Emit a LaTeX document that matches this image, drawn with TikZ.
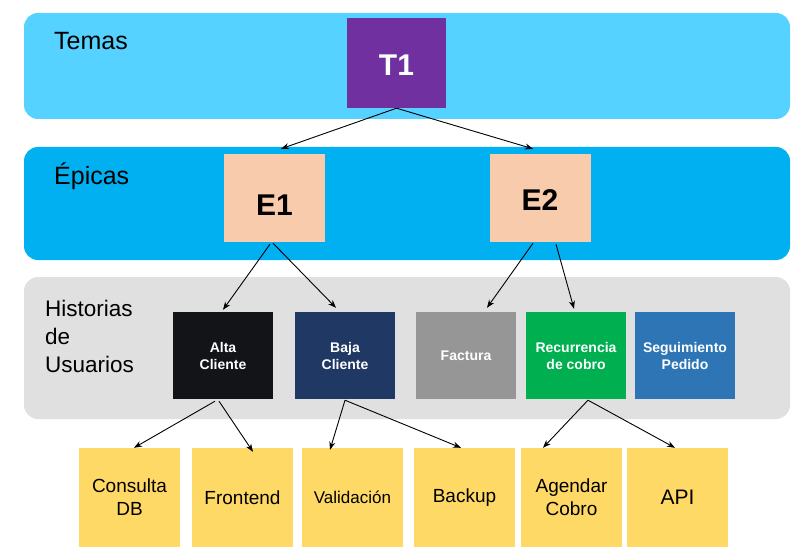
\documentclass[tikz,border=0pt]{standalone}
\usepackage{fontspec}
\setmainfont{Liberation Sans}
\usetikzlibrary{arrows.meta}
\definecolor{bandA}{HTML}{55D2FF}
\definecolor{bandB}{HTML}{00B0F0}
\definecolor{bandC}{HTML}{E0E0E0}
\definecolor{topicC}{HTML}{7030A0}
\definecolor{epicC}{HTML}{F8CBAD}
\definecolor{altaC}{HTML}{121418}
\definecolor{bajaC}{HTML}{1F3864}
\definecolor{factC}{HTML}{969696}
\definecolor{recC}{HTML}{00B050}
\definecolor{segC}{HTML}{2E75B6}
\definecolor{taskC}{HTML}{FFD966}
\tikzset{
  band/.style={rounded corners=14pt},
  lbl/.style={inner sep=0pt, font=\fontsize{25}{30}\selectfont},
  topicbox/.style={fill=topicC, text=white, minimum width=99pt, minimum height=90pt, inner sep=0pt,
    font=\bfseries\fontsize{30}{36}\selectfont},
  epicbox/.style={fill=epicC, minimum width=101pt, minimum height=88pt, inner sep=0pt,
    font=\bfseries\fontsize{30}{36}\selectfont},
  storybox/.style={minimum width=100pt, minimum height=87pt, inner sep=0pt, text=white, align=center,
    font=\bfseries\fontsize{14}{17}\selectfont},
  taskbox/.style={fill=taskC, minimum width=101pt, minimum height=99pt, inner sep=0pt, align=center,
    font=\fontsize{19}{23}\selectfont},
  arr/.style={-{Stealth[length=8pt,width=6pt]}, line width=0.9pt, black}
}
\begin{document}
\begin{tikzpicture}[x=1pt,y=-1pt]
\useasboundingbox (0,0) rectangle (803,556);
% bands
\fill[band, bandA] (24,13) rectangle (790,119);
\fill[band, bandB] (24,147) rectangle (790,260);
\fill[band, bandC] (24,277) rectangle (790,419);
% band labels
\node[lbl, anchor=base west] (ltemas) at (54,50) {Temas};
\node[lbl, anchor=base west] (lepicas) at (54,185) {Épicas};
\node[lbl, anchor=west, align=left, font=\fontsize{22.5}{28}\selectfont] (lhist) at (45,336) {Historias\\de\\Usuarios};
% topic
\node[topicbox, text height=25.5pt, text depth=0pt] (T1) at (396.5,63) {T1};
% epics
\node[epicbox, text height=35.5pt, text depth=0pt] (E1) at (274.5,198) {E1};
\node[epicbox, text height=25.5pt, text depth=0pt] (E2) at (540,198) {E2};
% stories
\node[storybox, fill=altaC] (Alta) at (223,355.5) {Alta\\Cliente};
\node[storybox, fill=bajaC] (Baja) at (345,355.5) {Baja\\Cliente};
\node[storybox, fill=factC] (Fact) at (466,355.5) {Factura};
\node[storybox, fill=recC] (Rec) at (576,355.5) {Recurrencia\\de cobro};
\node[storybox, fill=segC] (Seg) at (685,355.5) {Seguimiento\\Pedido};
% tasks
\node[taskbox] (Cons) at (129.5,497.5) {Consulta\\DB};
\node[taskbox] (Front) at (242.5,497.5) {Frontend};
\node[taskbox, font=\fontsize{17}{21}\selectfont] (Valid) at (352.5,497.5) {Validación};
\node[taskbox] (Back) at (464.5,497.5) {Backup};
\node[taskbox] (Agen) at (571.5,497.5) {Agendar\\Cobro};
\node[taskbox, font=\fontsize{21}{25}\selectfont] (API) at (677.5,497.5) {API};
% connectors
\draw[arr] (T1.south) -- ([xshift=6.5pt,yshift=5pt]E1.north);
\draw[arr] (T1.south) -- ([xshift=-7pt,yshift=5pt]E2.north);
\draw[arr] ([xshift=-4.5pt,yshift=-2pt]E1.south) -- ([yshift=2pt]Alta.north);
\draw[arr] ([xshift=-1.5pt,yshift=-1pt]E1.south) -- ([xshift=-9pt,yshift=4pt]Baja.north);
\draw[arr] ([xshift=-7pt,yshift=-1pt]E2.south) -- ([xshift=21pt,yshift=4pt]Fact.north);
\draw[arr] ([xshift=16pt,yshift=-2pt]E2.south) -- ([xshift=-2pt,yshift=3pt]Rec.north);
\draw[arr] ([xshift=-8pt,yshift=-2pt]Alta.south) -- ([xshift=4.5pt]Cons.north);
\draw[arr] ([xshift=-4pt,yshift=-2pt]Alta.south) -- ([xshift=10.5pt,yshift=-4pt]Front.north);
\draw[arr] ([yshift=-1pt]Baja.south) -- ([xshift=-22.5pt,yshift=-2pt]Valid.north);
\draw[arr] ([yshift=-1pt]Baja.south) -- ([xshift=-3.5pt]Back.north);
\draw[arr] ([xshift=12pt,yshift=-1pt]Rec.south) -- ([xshift=-28.5pt]Agen.north);
\draw[arr] ([xshift=12pt,yshift=-1pt]Rec.south) -- ([xshift=-2.5pt]API.north);
\end{tikzpicture}
\end{document}
